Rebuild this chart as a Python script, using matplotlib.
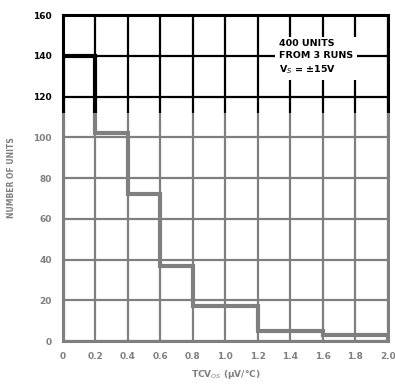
import matplotlib
matplotlib.use("Agg")
import matplotlib.pyplot as plt
from matplotlib.patches import Rectangle

bin_edges = [0.0, 0.2, 0.4, 0.6, 0.8, 1.0, 1.2, 1.4, 1.6, 1.8, 2.0]
counts = [140, 102, 72, 37, 17, 17, 5, 5, 3, 3]
x_ticks = [0, 0.2, 0.4, 0.6, 0.8, 1.0, 1.2, 1.4, 1.6, 1.8, 2.0]
x_tick_labels = ["0", "0.2", "0.4", "0.6", "0.8", "1.0", "1.2", "1.4", "1.6", "1.8", "2.0"]
y_ticks = [0, 20, 40, 60, 80, 100, 120, 140, 160]
y_tick_labels = ["0", "20", "40", "60", "80", "100", "120", "140", "160"]

plt.rcParams['font.family'] = ['DejaVu Sans']

fig = plt.figure(figsize=(3.95, 3.85), dpi=100)
ax = fig.add_axes([0.159, 0.114, 0.823, 0.847])
ax.set_xlim(0, 2.0)
ax.set_ylim(0, 160)

for xv in x_ticks:
    ax.axvline(xv, color='black', lw=1.6, zorder=1)
for yv in y_ticks:
    ax.axhline(yv, color='black', lw=1.6, zorder=1)

ax.stairs(counts, bin_edges, color='black', lw=3.0, zorder=3)

for s in ax.spines.values():
    s.set_linewidth(2.2)

ax.set_xticks(x_ticks)
ax.set_xticklabels(x_tick_labels, fontsize=6.5, fontweight='bold')
ax.set_yticks(y_ticks)
ax.set_yticklabels(y_tick_labels, fontsize=6.5, fontweight='bold')
ax.tick_params(length=0, pad=8)

ax.set_xlabel("TCV$_{OS}$ (µV/°C)", fontsize=6.5, fontweight='bold', labelpad=5)
ax.set_ylabel("NUMBER OF UNITS", fontsize=5.5, fontweight='bold', labelpad=12)

ax.text(1.33, 148, "400 UNITS\nFROM 3 RUNS\nV$_S$ = ±15V", fontsize=6.8, fontweight='bold',
        va='top', ha='left', linespacing=1.35, zorder=5,
        bbox=dict(facecolor='white', edgecolor='none', pad=3))

# scan fading of the lower part of the page
fig.patches.append(Rectangle((0, 0), 1, 1 - 113 / 385, transform=fig.transFigure,
                             facecolor='white', edgecolor='none', alpha=0.5, zorder=10))

fig.savefig("out.png", dpi=100)
